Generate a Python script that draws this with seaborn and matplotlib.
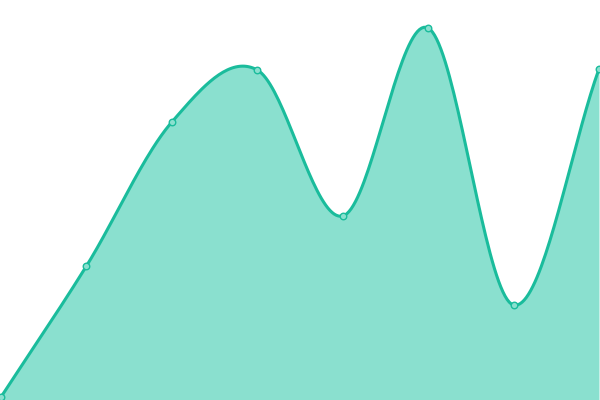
import numpy as np
import pandas as pd
import seaborn as sns
import matplotlib.pyplot as plt

# data (y axis 0..400, no visible axes)
steps = [0, 1, 2, 3, 4, 5, 6, 7]
values = [3, 134, 278, 330, 184, 372, 95, 331]

line_color = '#1abc9c'
fill_color = '#8ae0cf'


def catmull_rom(xs, ys, n=40):
    # smooth curve through the points (drawing only)
    xs = np.asarray(xs, float)
    ys = np.asarray(ys, float)
    px = np.concatenate([[2 * xs[0] - xs[1]], xs, [2 * xs[-1] - xs[-2]]])
    py = np.concatenate([[2 * ys[0] - ys[1]], ys, [2 * ys[-1] - ys[-2]]])
    out_x, out_y = [], []
    for i in range(1, len(px) - 2):
        t = np.linspace(0, 1, n, endpoint=False)
        for p, out in ((px, out_x), (py, out_y)):
            p0, p1, p2, p3 = p[i - 1], p[i], p[i + 1], p[i + 2]
            out.extend(0.5 * ((2 * p1) + (-p0 + p2) * t
                              + (2 * p0 - 5 * p1 + 4 * p2 - p3) * t ** 2
                              + (-p0 + 3 * p1 - 3 * p2 + p3) * t ** 3))
    out_x.append(xs[-1])
    out_y.append(ys[-1])
    return np.array(out_x), np.array(out_y)


sx, sy = catmull_rom(steps, values)
curve = pd.DataFrame({'x': sx, 'y': sy})
pts = pd.DataFrame({'x': steps, 'y': values})

sns.set_style('white')
fig = plt.figure(figsize=(6, 4), dpi=100)
ax = fig.add_axes([0, 0, 1, 1])

ax.fill_between(curve['x'], curve['y'], 0, color=fill_color, lw=0)
sns.lineplot(data=curve, x='x', y='y', color=line_color, lw=2.2, ax=ax, sort=False)
sns.scatterplot(data=pts, x='x', y='y', color=fill_color, edgecolor=line_color,
                s=22, linewidth=1, zorder=5, ax=ax)

ax.set_xlim(-0.012, 7.012)
ax.set_ylim(0, 400)
ax.axis('off')

fig.savefig('out.png', dpi=100)
